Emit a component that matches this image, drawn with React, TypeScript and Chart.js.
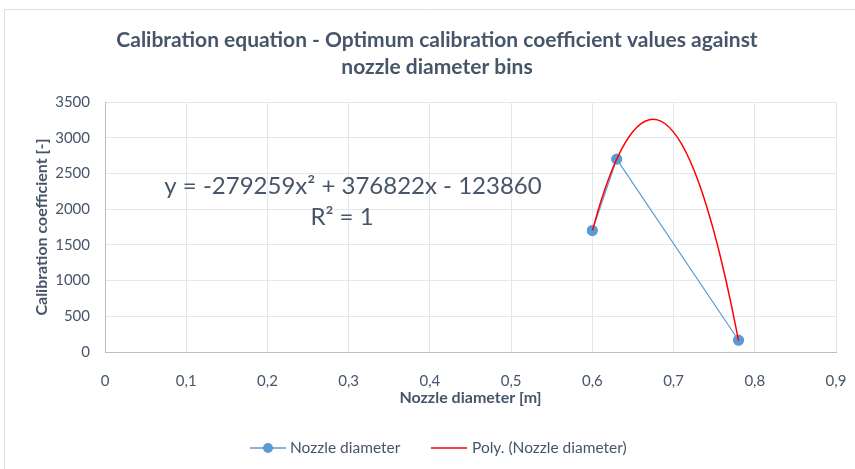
import React, { useEffect, useRef } from "react";
import { Chart, registerables } from "chart.js";

Chart.register(...registerables);

const TITLE_LINES = [
  "Calibration equation - Optimum calibration coefficient values against",
  "nozzle diameter bins",
];
const X_AXIS_TITLE = "Nozzle diameter [m]";
const Y_AXIS_TITLE = "Calibration coefficient [-]";
const EQUATION_LINES = ["y = -279259x² + 376822x - 123860", "R² = 1"];
const SERIES_NAME = "Nozzle diameter";
const TREND_NAME = "Poly. (Nozzle diameter)";

const nozzleX = [0.6, 0.63, 0.78];
const nozzleY = [1700, 2700, 165];

// Trendline points
const trendX = [0.6, 0.61, 0.62, 0.63, 0.64, 0.65, 0.66, 0.67, 0.68, 0.69, 0.7, 0.71, 0.72, 0.73, 0.74, 0.75, 0.76, 0.77, 0.78];
const trendY = [1700, 2089, 2423, 2700, 2921, 3087, 3198, 3252, 3250, 3192, 3078, 2910, 2684, 2403, 2066, 1674, 1225, 720, 160];

const X_MIN = 0;
const X_MAX = 0.9;
const X_STEP = 0.1;
const Y_MIN = 0;
const Y_MAX = 3500;
const Y_STEP = 500;

const FONT = "Lato, 'Open Sans', sans-serif";
const TEXT = "#475569";
const GRID = "#e2e6ee";
const AXIS = "#b4bfcf";
const BLUE = "#5b9bd5";
const RED = "#ff0000";

const W = 855;
const H = 469;

export default function App() {
  const ref = useRef<HTMLCanvasElement>(null);
  useEffect(() => {
    const canvas = ref.current!;
    const overlay = {
      id: "overlay",
      afterDraw(chart: any) {
        const ctx = chart.ctx as CanvasRenderingContext2D;
        const area = chart.chartArea;
        ctx.save();
        // outer border
        ctx.strokeStyle = "#d9dde4";
        ctx.lineWidth = 1;
        ctx.beginPath();
        ctx.moveTo(4.5, H);
        ctx.lineTo(4.5, 9.5);
        ctx.lineTo(W, 9.5);
        ctx.stroke();
        // title
        ctx.fillStyle = TEXT;
        ctx.textAlign = "center";
        ctx.textBaseline = "middle";
        ctx.font = `bold 21px ${FONT}`;
        ctx.fillText(TITLE_LINES[0], 437, 40);
        ctx.fillText(TITLE_LINES[1], 437, 67);
        // equation
        ctx.font = `24px ${FONT}`;
        ctx.fillText(EQUATION_LINES[0], 353, 186);
        ctx.fillText(EQUATION_LINES[1], 342, 217);
        // axis titles
        ctx.font = `bold 16px ${FONT}`;
        ctx.fillText(X_AXIS_TITLE, (area.left + area.right) / 2, 398);
        ctx.save();
        ctx.translate(42, (area.top + area.bottom) / 2);
        ctx.rotate(-Math.PI / 2);
        ctx.fillText(Y_AXIS_TITLE, 0, 0);
        ctx.restore();
        // legend
        const ly = 448;
        ctx.strokeStyle = BLUE;
        ctx.lineWidth = 1.5;
        ctx.beginPath();
        ctx.moveTo(250, ly);
        ctx.lineTo(286, ly);
        ctx.stroke();
        ctx.fillStyle = BLUE;
        ctx.beginPath();
        ctx.arc(268, ly, 5, 0, Math.PI * 2);
        ctx.fill();
        ctx.strokeStyle = RED;
        ctx.beginPath();
        ctx.moveTo(431, ly);
        ctx.lineTo(467, ly);
        ctx.stroke();
        ctx.fillStyle = TEXT;
        ctx.font = `15.5px ${FONT}`;
        ctx.textAlign = "left";
        ctx.fillText(SERIES_NAME, 290, ly);
        ctx.fillText(TREND_NAME, 472, ly);
        ctx.restore();
      },
    };
    const chart = new Chart(canvas, {
      type: "scatter",
      data: {
        datasets: [
          {
            label: TREND_NAME,
            data: trendX.map((x, i) => ({ x, y: trendY[i] })),
            showLine: true,
            borderColor: RED,
            borderWidth: 1.5,
            pointRadius: 0,
            tension: 0.4,
            order: 1,
          },
          {
            label: SERIES_NAME,
            data: nozzleX.map((x, i) => ({ x, y: nozzleY[i] })),
            showLine: true,
            borderColor: BLUE,
            borderWidth: 1.2,
            backgroundColor: BLUE,
            pointBackgroundColor: BLUE,
            pointBorderColor: BLUE,
            pointRadius: 5,
            order: 2,
          },
        ],
      },
      plugins: [overlay],
      options: {
        responsive: false,
        animation: false,
        events: [],
        layout: { padding: { top: 102, right: 19, left: 0, bottom: 0 } },
        plugins: { legend: { display: false }, title: { display: false }, tooltip: { enabled: false } },
        scales: {
          x: {
            type: "linear",
            min: X_MIN,
            max: X_MAX,
            afterFit: (s: any) => {
              s.height = 117;
              s.paddingRight = 0;
              s.paddingLeft = 0;
            },
            afterBuildTicks: (s: any) => {
              const t = [];
              for (let v = X_MIN; v <= X_MAX + 1e-9; v += X_STEP) t.push({ value: Math.round(v * 10) / 10 });
              s.ticks = t;
            },
            ticks: {
              color: TEXT,
              font: { family: FONT, size: 15 },
              padding: 20,
              maxRotation: 0,
              callback: (v: any) => (Number(v) === 0 ? "0" : Number(v).toFixed(1).replace(".", ",")),
            },
            grid: { color: GRID, drawTicks: false },
            border: { color: AXIS },
          },
          y: {
            type: "linear",
            min: Y_MIN,
            max: Y_MAX,
            afterFit: (s: any) => {
              s.width = 105;
              s.paddingTop = 0;
              s.paddingBottom = 0;
            },
            ticks: {
              stepSize: Y_STEP,
              color: TEXT,
              font: { family: FONT, size: 15 },
              padding: 15,
              callback: (v: any) => String(Number(v)),
            },
            grid: { color: GRID, drawTicks: false },
            border: { color: AXIS },
          },
        },
      },
    });
    return () => chart.destroy();
  }, []);
  return (
    <div style={{ position: "absolute", left: 0, top: 0, width: W, height: H, background: "#fff" }}>
      <canvas ref={ref} width={W} height={H} style={{ width: W, height: H, display: "block" }} />
    </div>
  );
}
